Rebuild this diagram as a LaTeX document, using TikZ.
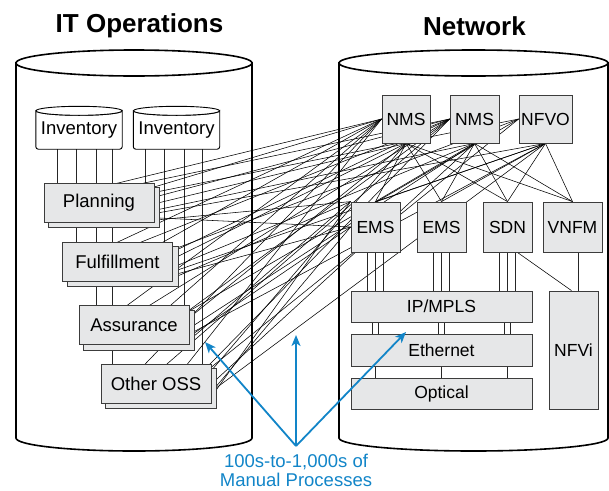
\documentclass[tikz,border=0pt]{standalone}
\usepackage{fontspec}
\setmainfont{Liberation Sans}
\usetikzlibrary{calc,arrows.meta}
\pgfdeclarelayer{back}
\pgfdeclarelayer{wires}
\pgfdeclarelayer{bodies}
\pgfsetlayers{back,wires,bodies,main}
\definecolor{boxgray}{RGB}{230,231,232}
\definecolor{boxedge}{RGB}{60,60,60}
\definecolor{callblue}{RGB}{18,133,200}
\tikzset{
  title/.style={font=\fontsize{26}{28}\selectfont\bfseries},
  vessel/.style={draw=black, line width=1.6pt, fill=white},
  ossbox/.style={draw=boxedge, fill=boxgray, line width=0.8pt, inner sep=0pt,
    minimum width=110pt, minimum height=39pt, font=\fontsize{18.5}{20}\selectfont},
  shadowbox/.style={draw=boxedge, fill=boxgray, line width=0.8pt},
  netbox/.style={draw=boxedge, fill=boxgray, line width=0.8pt, inner sep=0pt,
    font=\fontsize{17.5}{19}\selectfont},
  store/.style={inner sep=0pt, minimum width=86pt, minimum height=38pt,
    font=\fontsize{18.5}{20}\selectfont},
  storebody/.style={draw=black, line width=0.9pt, fill=white},
  wire/.style={draw=black, line width=0.55pt},
  bus/.style={draw=black!85, line width=0.6pt, double=white, double distance=2pt},
  link/.style={draw=black!85, line width=0.6pt},
  callout/.style={draw=callblue, line width=1.8pt,
    -{Stealth[length=11pt,width=9pt,inset=3pt]}},
}
\begin{document}
\begin{tikzpicture}[x=1pt,y=-1pt]
\useasboundingbox (0,0) rectangle (609,490);

% titles
\node[title] (ittitle) at (139.5,26) {IT Operations};
\node[title] (nettitle) at (474.5,26) {Network};

% the two large vessels
\begin{pgfonlayer}{back}
  \path[vessel] (16,63) -- (16,438) arc[start angle=180,end angle=360,x radius=118pt,y radius=13pt] -- (252,63) -- cycle;
  \draw[vessel] (134,63) ellipse [x radius=118pt, y radius=13pt];
  \path[vessel] (339,63) -- (339,438) arc[start angle=180,end angle=360,x radius=134.5pt,y radius=13pt] -- (608,63) -- cycle;
  \draw[vessel] (473.5,63) ellipse [x radius=134.5pt, y radius=13pt];
\end{pgfonlayer}

% inventories
\node[store] (inv1) at (79,130) {Inventory};
\node[store] (inv2) at (176.5,130) {Inventory};
\begin{pgfonlayer}{bodies}
  \foreach \i in {inv1,inv2} {
    \path[storebody, rounded corners=2.5pt] (\i.north west) -- (\i.south west) -- (\i.south east)
      [sharp corners] -- (\i.north east)
      arc[start angle=0,end angle=-180,x radius=43pt,y radius=4.5pt] -- cycle;
    \draw[storebody] (\i.north) ellipse [x radius=43pt, y radius=4.5pt];
  }
\end{pgfonlayer}

% OSS stack
\node[ossbox] (plan) at (99,202.5) {Planning};
\node[ossbox] (fulf) at (117.5,261.5) {Fulfillment};
\node[ossbox] (assu) at (134,325) {Assurance};
\node[ossbox] (oss)  at (156,383.5) {Other OSS};
\begin{pgfonlayer}{bodies}
  \foreach \b in {plan,fulf,assu,oss}
    \draw[shadowbox] ($(\b.north west)+(5,5)$) rectangle ($(\b.south east)+(5,5)$);
\end{pgfonlayer}

% network elements
\node[netbox, minimum width=48pt, minimum height=48pt] (nms1) at (406,119) {NMS};
\node[netbox, minimum width=49pt, minimum height=48pt] (nms2) at (474.5,119) {NMS};
\node[netbox, minimum width=53pt, minimum height=48pt] (nfvo) at (545.5,119) {NFVO};
\node[netbox, minimum width=49pt, minimum height=50pt] (ems1) at (375.5,227) {EMS};
\node[netbox, minimum width=49pt, minimum height=50pt] (ems2) at (441.5,227) {EMS};
\node[netbox, minimum width=49pt, minimum height=50pt] (sdn)  at (507.5,227) {SDN};
\node[netbox, minimum width=59pt, minimum height=50pt] (vnfm) at (572.5,227) {VNFM};
\node[netbox, minimum width=181pt, minimum height=31pt] (ipm) at (441.5,306.5) {IP/MPLS};
\node[netbox, minimum width=181pt, minimum height=32pt] (eth) at (441.5,350) {Ethernet};
\node[netbox, minimum width=181pt, minimum height=31pt] (opt) at (441.5,393.5) {Optical};
\node[netbox, minimum width=49pt, minimum height=118pt] (nfvi) at (573.5,350) {NFVi};

\begin{pgfonlayer}{wires}
  % inventory feeds down to each OSS
  \foreach \dx/\tgt in {20.5/plan, 39.5/fulf, 59.5/assu, 75.5/oss}
    \draw[bus] ($(inv1.south west)+(\dx,0)$) coordinate (t) -- (t |- \tgt.north);
  \foreach \dx/\tgt in {13.5/plan, 32.5/fulf, 52.5/assu, 70.5/oss}
    \draw[bus] ($(inv2.south west)+(\dx,0)$) coordinate (t) -- (t |- \tgt.north);

  % OSS to network management
  \foreach \b in {plan,fulf,assu,oss} {
    \draw[wire] ($(\b)+(-20,-10)$) -- (nms1.west);
    \draw[wire] ($(\b)+(20,-5)$) -- (nms1.west);
    \draw[wire] ($(\b)+(0,-10)$) -- (nms2.west);
    \draw[wire] ($(\b)+(35,0)$) -- (nms2.west);
    \draw[wire] ($(\b)+(45,-8)$) -- (nfvo.west);
    \draw[wire] ($(\b)+(40,5)$) -- (nms1.south);
    \draw[wire] ($(\b)+(45,10)$) -- (nms2.south);
    \draw[wire] ($(\b)+(50,12)$) -- (nfvo.south);
    \draw[wire] ($(\b)+(50,15)$) -- (ems1.west);
    \draw[wire] ($(\b)+(52,18)$) -- (ems1.north west);
  }

  % management to element layer
  \foreach \m in {nms1,nms2,nfvo}
    \foreach \e in {ems1,ems2,sdn,vnfm}
      \draw[wire] (\m.south) -- (\e.north);

  % element layer to transport
  \foreach \n in {ems1,ems2,sdn} {
    \foreach \dx in {-8,0,8}
      \draw[link] ($(\n.south)+(\dx,0)$) coordinate (t) -- (t |- ipm.north);
    \draw[bus, double distance=5pt] (\n.south |- ipm.south) -- (\n.south |- eth.north);
    \draw[link] (\n.south |- eth.south) -- (\n.south |- opt.north);
  }
  \draw[wire] ($(sdn.south east)+(-15,0)$) -- ($(nfvi.north)+(-2,0)$);
  \draw[link] ($(vnfm.south)+(5.5,0)$) coordinate (t) -- (t |- nfvi.north);
\end{pgfonlayer}

% callout
\coordinate (hub) at (296,446);
\coordinate (c1) at (205,342);
\coordinate (c2) at (296,335);
\coordinate (c3) at (406,332);
\node[text=callblue, font=\fontsize{18.5}{19}\selectfont, align=center, inner sep=0pt] (note) at (296,470)
  {100s-to-1,000s of\\Manual Processes};
\foreach \c in {c1,c2,c3}
  \draw[callout] (hub) -- (\c);
\end{tikzpicture}
\end{document}
